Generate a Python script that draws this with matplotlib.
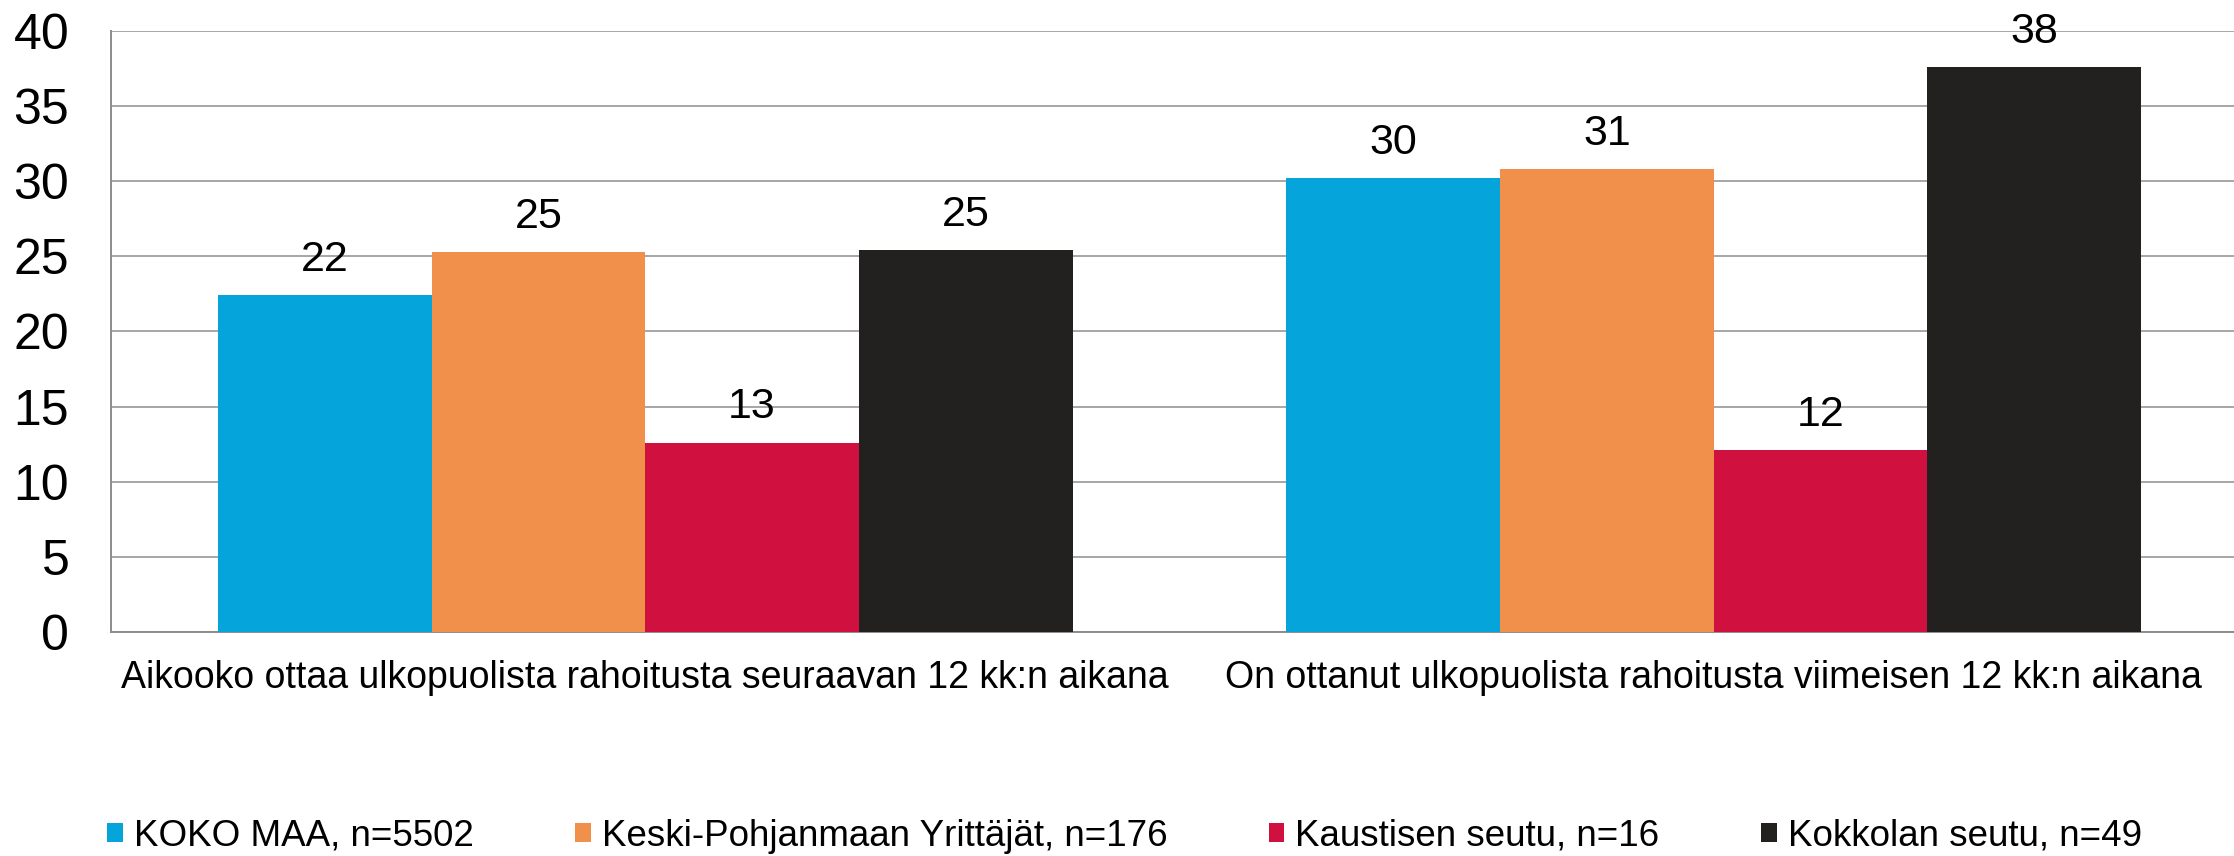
import numpy as np
import matplotlib.pyplot as plt
from matplotlib.patches import Patch

# categories and series
categories = ["Aikooko ottaa ulkopuolista rahoitusta seuraavan 12 kk:n aikana",
              "On ottanut ulkopuolista rahoitusta viimeisen 12 kk:n aikana"]
series_names = ["KOKO MAA, n=5502", "Keski-Pohjanmaan Yrittäjät, n=176",
                "Kaustisen seutu, n=16", "Kokkolan seutu, n=49"]
koko_maa = [22.4, 30.2]
keski_pohjanmaa = [25.3, 30.8]
kaustinen = [12.6, 12.1]
kokkola = [25.4, 37.6]
y_ticks = [0, 5, 10, 15, 20, 25, 30, 35, 40]

colors = ['#05A5DB', '#F0904A', '#D0103F', '#222120']
values = [koko_maa, keski_pohjanmaa, kaustinen, kokkola]

plt.rcParams['font.family'] = ['Liberation Sans', 'DejaVu Sans']

fig = plt.figure(figsize=(22.34, 8.56), dpi=100)
ax = fig.add_axes([0.0497, 0.2617, 1.0 - 0.0497, 0.9638 - 0.2617])

x = np.arange(len(categories))
width = 0.2
for i, (vals, col) in enumerate(zip(values, colors)):
    pos = x + (i - 1.5) * width
    bars = ax.bar(pos, vals, width, color=col, zorder=3)
    for b, v in zip(bars, vals):
        ax.annotate(f"{v:.0f}", (b.get_x() + b.get_width() / 2, v),
                    xytext=(0, 11), textcoords='offset points',
                    ha='center', va='bottom', fontsize=31)

ax.set_xlim(-0.5, 1.487)
ax.set_ylim(0, 40)
ax.set_yticks(y_ticks)
ax.set_yticklabels([str(t) for t in y_ticks], fontsize=36)
ax.set_xticks(x)
ax.set_xticklabels(categories, fontsize=27)
ax.tick_params(axis='y', length=0, pad=30)
ax.tick_params(axis='x', length=0, pad=20)
ax.yaxis.grid(True, color='#A6A6A6', linewidth=1.4, zorder=0)
ax.set_axisbelow(True)
for s in ['top', 'right']:
    ax.spines[s].set_visible(False)
for s in ['left', 'bottom']:
    ax.spines[s].set_color('#8C8C8C')
    ax.spines[s].set_linewidth(1.4)

handles = [Patch(facecolor=c, edgecolor='none') for c in colors]
fig.legend(handles, series_names, loc='center left',
           bbox_to_anchor=(0.048, 1 - 836 / 856), ncol=4, frameon=False,
           prop={'size': 26.5},
           handlelength=0.42, handleheight=0.42, handletextpad=0.3,
           columnspacing=2.76, borderpad=0, borderaxespad=0)

fig.savefig('out.png', dpi=100)
